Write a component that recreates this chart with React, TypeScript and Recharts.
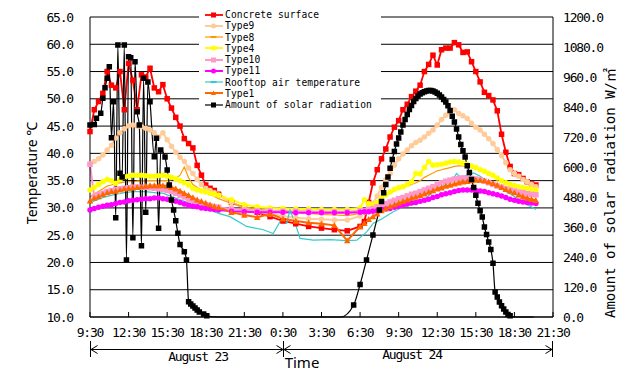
import React from 'react';
import { LineChart, Line, XAxis, YAxis, CartesianGrid, Legend } from 'recharts';

// ---------- axis ticks ----------
const xTickMinutes = [0, 180, 360, 540, 720, 900, 1080, 1260, 1440, 1620, 1800, 1980, 2160];
const xTickLabels = ['9:30', '12:30', '15:30', '18:30', '21:30', '0:30', '3:30', '6:30', '9:30', '12:30', '15:30', '18:30', '21:30'];
const tempTicks = [10, 15, 20, 25, 30, 35, 40, 45, 50, 55, 60, 65];
const radTicks = [0, 120, 240, 360, 480, 600, 720, 840, 960, 1080, 1200];

// ---------- temperature series (minutes since 9:30 Aug 23) ----------
const timeMin = [
  0, 20, 40, 60, 80, 100, 120, 140, 160, 180, 200, 220, 240, 260, 280, 300, 320, 340, 360, 380, 400, 420, 440, 460, 480, 500, 520, 540, 560, 580, 600,
  660, 720, 780, 840, 900, 960, 1020, 1080, 1140, 1200, 1260,
  1280, 1300, 1320, 1340, 1360, 1380, 1400, 1420, 1440, 1460, 1480, 1500, 1520, 1540, 1560, 1580, 1600, 1620, 1640, 1660, 1680, 1700, 1720, 1740, 1760, 1780, 1800, 1820, 1840, 1860, 1880, 1900, 1920, 1940, 1960, 1980, 2000, 2020, 2040, 2060, 2080,
];

const concrete = [
  44, 48, 49.5, 51, 55, 52.5, 52, 55, 48, 56.5, 53.4, 48, 54.4, 54, 55.6, 52, 51.3, 52.6, 50, 48.3, 46.6, 45, 42.7, 41.8, 41, 37.8, 36, 34.2, 33.6, 33.2, 32.5,
  31, 30, 29.2, 28.4, 27.6, 27.1, 26.6, 26.3, 26, 25.8, 26.6,
  27.5, 31, 34.6, 37, 39, 40.8, 43, 44.8, 46, 48, 49, 50.4, 51.4, 52.5, 55, 56.3, 58, 56.2, 59, 59.3, 59.3, 60.3, 59.9, 58.5, 58.6, 56.8, 55, 53.1, 51.2, 50.6, 49.8, 47.8, 43.5, 40.2, 37.6, 36.3, 36.1, 35.4, 34.8, 34.4, 34.2,
];

const type9 = [
  38, 38.5, 39, 39.7, 40.6, 41.5, 42.8, 43.8, 44.5, 45, 45.2, 45, 44.9, 44.6, 44.3, 43.8, 43, 43.8, 42.5, 41.3, 40.2, 39.3, 38.5, 37.3, 36.3, 35.2, 34.3, 33.6, 33.2, 32.8, 32.3,
  31, 30, 29.3, 28.9, 28.5, 28.2, 28, 27.9, 27.8, 27.8, 28.5,
  29.2, 30, 30.8, 32.2, 33.8, 35.2, 36.3, 37.8, 39, 39.9, 40.6, 41.4, 42, 42.4, 43, 43.7, 44.3, 45.2, 46.2, 47, 47.6, 48, 47.3, 46.9, 46.4, 45.5, 44.8, 44.3, 43.5, 42.7, 41.8, 40.7, 39.6, 38.3, 37, 36.3, 35.8, 35.2, 34.8, 34.3, 33.9,
];

const type8 = [
  32, 32.6, 33, 33.5, 34, 34.2, 34.5, 34.6, 34.7, 34.8, 34.8, 34.9, 35, 35, 35, 35, 35, 35, 35, 35.2, 35.4, 36, 37.5, 35.5, 34.3, 33.8, 33.3, 33, 32.5, 32.1, 31.7,
  30.8, 30.2, 29.8, 29.5, 29.6, 29.2, 29, 28.8, 28.7, 28.6, 29,
  29.4, 30, 30.4, 31.2, 31.8, 32.3, 32.7, 33.1, 33.5, 33.8, 34, 34.3, 34.6, 35, 35.6, 36, 36.4, 36.8, 37, 37.2, 37.4, 37.6, 37.7, 37.7, 37.6, 37.4, 37.2, 37, 36.7, 36.4, 36, 35.5, 35.1, 34.6, 34.3, 34, 33.8, 33.6, 33.5, 33.4, 33.3,
];

const type4 = [
  33.3, 33.8, 34.3, 34.8, 35.2, 35, 34.5, 35.2, 35.7, 35.8, 36, 36, 36, 35.9, 35.8, 35.8, 35.9, 36, 35.8, 35.6, 35.3, 35, 34.6, 34.2, 33.6, 33.3, 33.1, 32.9, 32.7, 32.5, 32.3,
  31.5, 30.6, 30.2, 30, 29.9, 29.8, 29.8, 29.7, 29.7, 29.7, 30,
  31.5, 30.8, 30.6, 31, 31.8, 32.4, 32.9, 33.4, 33.7, 33.9, 34.3, 34.8, 36.3, 36.2, 37.4, 38.5, 37.8, 37.9, 38, 38.2, 38.4, 38.5, 38.4, 38.2, 38, 37.7, 37.4, 37, 36.7, 36.3, 36, 35.5, 35, 34.6, 34.3, 34.1, 33.9, 33.7, 33.6, 33.4, 33.3,
];

const type10 = [
  38, 32, 32.4, 32.7, 33, 33.2, 33.4, 33.5, 33.6, 33.7, 33.8, 33.8, 33.8, 33.8, 33.7, 33.6, 33.5, 33.4, 33.2, 33, 32.7, 32.3, 32, 31.6, 31.3, 31, 30.8, 30.6, 30.4, 30.2, 30.1,
  29.8, 29.6, 29.5, 29.5, 29.4, 29.4, 29.4, 29.3, 29.3, 29.3, 29.5,
  29.4, 29.6, 29.9, 30.2, 30.5, 30.8, 31.1, 31.4, 31.7, 31.9, 32.2, 32.5, 32.7, 33, 33.3, 33.6, 33.9, 34.3, 34.6, 34.9, 35.1, 35.3, 35.4, 35.5, 35.4, 35.4, 35.3, 35.1, 34.9, 34.6, 34.3, 34, 33.8, 33.5, 33.3, 33.1, 32.9, 32.8, 32.6, 32.5, 32.4,
];

const type11 = [
  29.6, 29.9, 30.1, 30.3, 30.5, 30.6, 30.8, 31, 31.1, 31.3, 31.4, 31.5, 31.6, 31.7, 31.7, 31.8, 31.8, 31.7, 31.6, 31.4, 31.2, 31, 30.7, 30.5, 30.3, 30.2, 30, 29.9, 29.8, 29.7, 29.6,
  29.4, 29.3, 29.2, 29.2, 29.2, 29.1, 29.1, 29.1, 29.1, 29.1, 29.2,
  29.3, 29.3, 29.4, 29.5, 29.7, 29.8, 29.9, 30.1, 30.3, 30.5, 30.7, 30.9, 31, 31.2, 31.4, 31.6, 31.9, 32.1, 32.4, 32.6, 32.8, 33, 33.2, 33.3, 33.3, 33.3, 33.2, 33.1, 33, 32.8, 32.6, 32.4, 32.2, 31.9, 31.6, 31.4, 31.2, 31.1, 31, 30.9, 30.8,
];

const type1 = [
  31.3, 31.8, 32.1, 32.5, 32.8, 33, 33.1, 33.3, 33.5, 33.6, 33.7, 33.8, 33.9, 34, 34.1, 34.1, 34.1, 34.1, 34, 33.8, 33.5, 33.1, 32.7, 32.3, 31.9, 31.5, 31.2, 30.9, 30.6, 30.3, 30.1,
  29.2, 28.7, 28.3, 28.9, 28, 27.6, 27.3, 27.1, 26.8, 24, 26.6,
  27.2, 27.9, 28.4, 28.9, 29.5, 29.9, 30.3, 30.6, 30.9, 31.2, 31.5, 31.8, 32, 32.3, 32.6, 32.9, 33.2, 33.5, 33.7, 34, 34.2, 34.4, 34.6, 34.8, 34.9, 35, 35.1, 35.1, 35, 34.8, 34.5, 34.2, 33.8, 33.4, 33.1, 32.8, 32.4, 32.1, 31.8, 31.6, 31.4,
];

// ---------- rooftop air temperature (own time base) ----------
const airTime = [
  0, 20, 40, 60, 80, 100, 120, 140, 160, 180, 200, 220, 240, 260, 280, 300, 320, 340, 360, 380, 400, 420, 440, 460, 480, 500, 520, 540, 560, 580, 600,
  653, 731, 809, 855, 887, 918, 933, 957, 980, 1042, 1120, 1198, 1245, 1291, 1322, 1353, 1415, 1462, 1524,
  1560, 1590, 1620, 1660, 1690, 1710, 1730, 1760, 1790, 1820, 1850, 1880, 1913, 1950, 1980, 2010, 2040, 2080,
];
const airTemp = [
  30.8, 31.3, 31.6, 31.9, 32.1, 32.3, 32.5, 32.6, 32.8, 32.9, 33, 33, 33, 33, 32.9, 32.8, 32.7, 32.7, 32.4, 32.1, 31.8, 31.5, 31.2, 30.9, 30.7, 30.5, 30.2, 29.9, 29.6, 29.3, 29.0,
  28.4, 26.6, 26, 25.3, 27.5, 27.2, 29.6, 27.2, 24.4, 24.1, 24.2, 24, 24.1, 25.6, 27.2, 27.8, 29.3, 30.2, 30.8,
  31.6, 32.6, 33.6, 34.3, 35, 36.3, 35.6, 36, 36.4, 35.8, 35, 34.3, 33.6, 32.8, 32.1, 31.3, 30.6, 29.7,
];

// ---------- solar radiation (own time base, W/m2) ----------
const radTime = [
  0, 20, 30, 50, 60, 70, 80, 90, 100, 110, 120, 130, 140, 150, 160, 170, 180, 190, 200, 210, 220, 230, 240, 250, 260, 270, 280, 300, 310, 320,
  330, 350, 360, 370, 380, 390, 400, 410, 420, 440, 450, 460, 470, 480, 490, 500, 510, 530, 545,
  600, 1170,
  1230, 1260, 1290, 1320, 1350,
  1360, 1370, 1380, 1390, 1400, 1410, 1420, 1430, 1440, 1450, 1460, 1470, 1480, 1490, 1500, 1510, 1520, 1530, 1540, 1550,
  1560, 1570, 1580, 1590, 1600, 1610, 1620, 1630, 1640, 1650, 1660, 1670, 1680, 1690, 1700, 1710, 1720, 1730, 1740, 1750,
  1760, 1770, 1780, 1790, 1800, 1810, 1820, 1830, 1840, 1850, 1860, 1870, 1880, 1890, 1900, 1910, 1920, 1930, 1940, 1950, 1960,
  1980, 2010, 2040, 2070,
];
const radiation = [
  768, 770, 795, 815, 875, 917, 955, 1001, 717, 861, 397, 1088, 575, 560, 1088, 228, 1041, 1037, 317, 1021, 821, 768, 285, 955, 419, 940, 861, 641, 715, 355,
  668, 640, 588, 528, 468, 428, 385, 335, 290, 261, 228, 61, 52, 44, 36, 28, 20, 12, 5,
  0, 0,
  48, 130, 228, 328, 428,
  462, 497, 530, 560, 595, 630, 662, 692, 716, 740, 768, 790, 810, 830, 846, 862, 874, 884, 892, 897,
  901, 904, 906, 906, 904, 900, 895, 888, 880, 870, 860, 845, 826, 803, 780, 752, 720, 690, 665, 640,
  605, 578, 550, 518, 487, 455, 425, 400, 360, 330, 300, 270, 215, 100, 80, 60, 45, 32, 20, 10, 5,
  0, 0, 0, 0,
];

// ---------- series styling ----------
type Shape = 'square' | 'circle' | 'triangle' | 'dash';
const SERIES: { key: string; name: string; color: string; shape: Shape; size: number; width: number }[] = [
  { key: 'concrete', name: 'Concrete surface', color: '#FF0000', shape: 'square', size: 5.5, width: 1.8 },
  { key: 'type9', name: 'Type9', color: '#FFCC99', shape: 'circle', size: 5.5, width: 2 },
  { key: 'type8', name: 'Type8', color: '#FF9900', shape: 'dash', size: 5, width: 1.2 },
  { key: 'type4', name: 'Type4', color: '#FFFF00', shape: 'circle', size: 5.5, width: 2 },
  { key: 'type10', name: 'Type10', color: '#FF99CC', shape: 'square', size: 5.5, width: 2 },
  { key: 'type11', name: 'Type11', color: '#FF00FF', shape: 'circle', size: 5.5, width: 2 },
  { key: 'air', name: 'Rooftop air temperature', color: '#33CCCC', shape: 'dash', size: 5, width: 1.2 },
  { key: 'type1', name: 'Type1', color: '#FF6600', shape: 'triangle', size: 6.5, width: 2 },
  { key: 'rad', name: 'Amount of solar radiation', color: '#000000', shape: 'square', size: 5.5, width: 1.2 },
];

const tempData = timeMin.map((m, i) => ({
  m,
  concrete: concrete[i],
  type9: type9[i],
  type8: type8[i],
  type4: type4[i],
  type10: type10[i],
  type11: type11[i],
  type1: type1[i],
}));
const airData = airTime.map((m, i) => ({ m, air: airTemp[i] }));
const radData = radTime.map((m, i) => ({ m, rad: radiation[i] }));

const MONO = "'DejaVu Sans Mono', 'Noto Sans CJK JP', monospace";
const SANS = "'Noto Sans', 'Noto Sans CJK JP', sans-serif";

function marker(shape: Shape, cx: number, cy: number, color: string, s: number, key?: string) {
  if (shape === 'square') return <rect key={key} x={cx - s / 2} y={cy - s / 2} width={s} height={s} fill={color} />;
  if (shape === 'circle') return <circle key={key} cx={cx} cy={cy} r={s / 2} fill={color} />;
  if (shape === 'triangle')
    return <polygon key={key} points={`${cx},${cy - s / 2} ${cx + s / 2},${cy + s / 2.4} ${cx - s / 2},${cy + s / 2.4}`} fill={color} />;
  return <rect key={key} x={cx - s / 2} y={cy - 1} width={s} height={2} fill={color} />;
}

// markers are not drawn for zero readings (night-time radiation)
function makeDot(shape: Shape, color: string, size: number, hideZero = false) {
  return (props: any) => {
    const { cx, cy, index, value } = props;
    const v = Array.isArray(value) ? value[1] : value;
    if (cx == null || cy == null || isNaN(cx) || isNaN(cy) || (hideZero && v === 0)) return <g key={`n${index}`} />;
    return marker(shape, cx, cy, color, size, `d${index}`);
  };
}

const tickStyle = { letterSpacing: '-1.2px' };

const LeftTick = (props: any) => {
  const { x, y, payload } = props;
  return (
    <text x={x - 17} y={y + 4.5} textAnchor="end" fontFamily={MONO} fontSize={13} fill="#000" style={tickStyle}>
      {Number(payload.value).toFixed(1)}
    </text>
  );
};
const RightTick = (props: any) => {
  const { x, y, payload } = props;
  return (
    <text x={x + 10} y={y + 4.5} textAnchor="start" fontFamily={MONO} fontSize={13} fill="#000" style={tickStyle}>
      {Number(payload.value).toFixed(1)}
    </text>
  );
};
const BottomTick = (props: any) => {
  const { x, y, payload, index } = props;
  const i = xTickMinutes.indexOf(payload.value);
  return (
    <g>
      <line x1={x} x2={x} y1={y} y2={y - 5} stroke="#000" strokeWidth={1} />
      <text x={x} y={y + 20} textAnchor="middle" fontFamily={MONO} fontSize={13} fill="#000" style={tickStyle}>
        {xTickLabels[i >= 0 ? i : index]}
      </text>
    </g>
  );
};

const renderLegend = () => (
  <div style={{ fontFamily: MONO, fontSize: 9.6, letterSpacing: '0.1px', color: '#000', lineHeight: '11.25px' }}>
    {SERIES.map((s) => (
      <div key={s.key} style={{ display: 'flex', alignItems: 'center', height: 11.25, whiteSpace: 'nowrap' }}>
        <svg width={20} height={10} style={{ marginRight: 1, flex: 'none' }}>
          <line x1={1} x2={19} y1={5} y2={5} stroke={s.color} strokeWidth={s.width} />
          {marker(s.shape, 9.5, 5, s.color, s.shape === 'dash' ? 6 : 5)}
        </svg>
        <span>{s.name}</span>
      </div>
    ))}
  </div>
);

export default function App() {
  const tempSeries = SERIES.filter((s) => s.key !== 'air' && s.key !== 'rad');
  const air = SERIES.find((s) => s.key === 'air')!;
  const rad = SERIES.find((s) => s.key === 'rad')!;
  return (
    <div style={{ position: 'absolute', left: 0, top: 0, width: 635, height: 374, background: '#fff', overflow: 'hidden' }}>
      <LineChart width={635} height={374} data={tempData} margin={{ top: 17, right: 32, bottom: 27, left: 40 }}>
        <CartesianGrid yAxisId="left" vertical={false} stroke="#000" strokeWidth={1} />
        <XAxis
          dataKey="m"
          type="number"
          domain={[0, 2160]}
          ticks={xTickMinutes}
          interval={0}
          height={30}
          tickSize={0}
          tickMargin={0}
          tickLine={false}
          axisLine={{ stroke: '#000' }}
          tick={<BottomTick />}
        />
        <YAxis
          yAxisId="left"
          orientation="left"
          domain={[10, 65]}
          ticks={tempTicks}
          interval={0}
          width={50}
          tickSize={0}
          tickMargin={0}
          tickLine={false}
          axisLine={{ stroke: '#000' }}
          tick={<LeftTick />}
        />
        <YAxis
          yAxisId="right"
          orientation="right"
          domain={[0, 1200]}
          ticks={radTicks}
          interval={0}
          width={50}
          tickSize={0}
          tickMargin={0}
          tickLine={false}
          axisLine={{ stroke: '#000' }}
          tick={<RightTick />}
        />
        <Legend
          layout="horizontal"
          verticalAlign="middle"
          align="center"
          width={182}
          height={107}
          content={renderLegend}
          wrapperStyle={{ left: 199, top: 5, width: 182, height: 107, background: '#fff', paddingLeft: 5, paddingTop: 4, boxSizing: 'border-box' }}
        />
        {tempSeries.slice(0, 6).map((s) => (
          <Line
            key={s.key}
            yAxisId="left"
            dataKey={s.key}
            name={s.name}
            type="linear"
            stroke={s.color}
            strokeWidth={s.width}
            dot={s.shape === 'dash' ? false : makeDot(s.shape, s.color, s.size)}
            activeDot={false}
            isAnimationActive={false}
          />
        ))}
        <Line
          key="air"
          yAxisId="left"
          data={airData}
          dataKey="air"
          name={air.name}
          type="linear"
          stroke={air.color}
          strokeWidth={air.width}
          dot={false}
          activeDot={false}
          isAnimationActive={false}
        />
        {tempSeries.slice(6).map((s) => (
          <Line
            key={s.key}
            yAxisId="left"
            dataKey={s.key}
            name={s.name}
            type="linear"
            stroke={s.color}
            strokeWidth={s.width}
            dot={makeDot(s.shape, s.color, s.size)}
            activeDot={false}
            isAnimationActive={false}
          />
        ))}
        <Line
          key="rad"
          yAxisId="right"
          data={radData}
          dataKey="rad"
          name={rad.name}
          type="monotone"
          stroke={rad.color}
          strokeWidth={rad.width}
          dot={makeDot(rad.shape, rad.color, rad.size, true)}
          activeDot={false}
          isAnimationActive={false}
        />
      </LineChart>
      <svg width={635} height={374} style={{ position: 'absolute', left: 0, top: 0, pointerEvents: 'none' }}>
        <text transform="translate(37,173) rotate(-90)" textAnchor="middle" fontFamily={SANS} fontSize={14} fill="#000">
          Temperature ℃
        </text>
        <text transform="translate(615,193) rotate(-90)" textAnchor="middle" fontFamily={MONO} fontSize={14} fill="#000">
          Amount of solar radiation W/㎡
        </text>
        <g stroke="#000" strokeWidth={1} fill="none">
          <line x1={90.5} x2={90.5} y1={341} y2={357} />
          <line x1={283.5} x2={283.5} y1={341} y2={357} />
          <line x1={552.5} x2={552.5} y1={341} y2={357} />
          <line x1={90.5} x2={552.5} y1={349.5} y2={349.5} />
          <polyline points="97.5,345.5 91,349.5 97.5,353.5" />
          <polyline points="276.5,345.5 283,349.5 276.5,353.5" />
          <polyline points="290.5,345.5 284,349.5 290.5,353.5" />
          <polyline points="545.5,345.5 552,349.5 545.5,353.5" />
        </g>
        <text x={198} y={361} textAnchor="middle" fontFamily={MONO} fontSize={13} fill="#000" style={tickStyle}>
          August 23
        </text>
        <text x={412} y={359} textAnchor="middle" fontFamily={MONO} fontSize={13} fill="#000" style={tickStyle}>
          August 24
        </text>
        <text x={302} y={368} textAnchor="middle" fontFamily={SANS} fontSize={15} fill="#000">
          Time
        </text>
      </svg>
    </div>
  );
}
